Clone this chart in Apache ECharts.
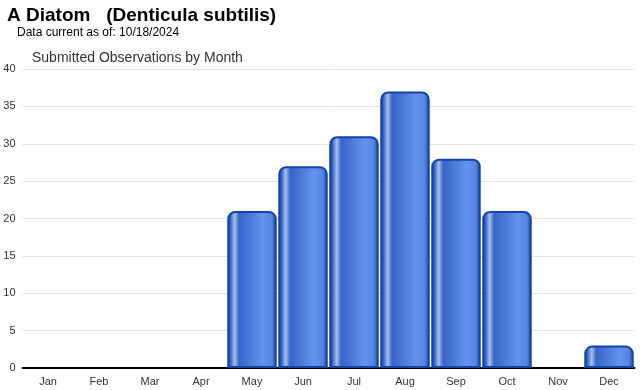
<!DOCTYPE html>
<html><head><meta charset="utf-8">
<script src="https://cdn.jsdelivr.net/npm/echarts@6/dist/echarts.min.js"></script>
<style>html,body{margin:0;padding:0;background:#fff}#c{width:640px;height:390px}</style>
</head><body><div id="c"></div>
<script>
const months = ['Jan','Feb','Mar','Apr','May','Jun','Jul','Aug','Sep','Oct','Nov','Dec'];
const observations = [0,0,0,0,21,27,31,37,28,21,0,3];
const yTicks = [0,5,10,15,20,25,30,35,40];

const chart = echarts.init(document.getElementById('c'), null, {renderer:'canvas'});
const barGrad = new echarts.graphic.LinearGradient(0,0,1,0,[
  {offset:0, color:'#1642a0'},
  {offset:0.06, color:'#2f5fc2'},
  {offset:0.15, color:'#a8bfe8'},
  {offset:0.24, color:'#3565c8'},
  {offset:0.72, color:'#6493ec'},
  {offset:0.9, color:'#5585e2'},
  {offset:1, color:'#1642a0'}
]);
chart.setOption({
  animation:false,
  title:[
    {text:'A Diatom   (Denticula subtilis)', left:7, top:6, padding:0, textStyle:{fontFamily:'Liberation Sans, Arial, sans-serif', fontSize:19, fontWeight:'bold', color:'#000'}},
    {text:'Data current as of: 10/18/2024', left:17, top:27, padding:0, textStyle:{fontFamily:'Liberation Sans, Arial, sans-serif', fontSize:12, fontWeight:'normal', color:'#000'}},
    {text:'Submitted Observations by Month', left:32, top:51, padding:0, textStyle:{fontFamily:'Liberation Sans, Arial, sans-serif', fontSize:14, fontWeight:'normal', color:'#333'}}
  ],
  grid:{left:22.5, right:5.5, top:69, bottom:22, containLabel:false},
  xAxis:{
    type:'category', data:months,
    axisLine:{lineStyle:{color:'#000', width:2}},
    axisTick:{alignWithLabel:true, length:5, lineStyle:{color:'#bbb'}},
    axisLabel:{fontFamily:'Liberation Sans, Arial, sans-serif', fontSize:11, color:'#333', margin:8}
  },
  yAxis:{
    type:'value', min:yTicks[0], max:yTicks[yTicks.length-1], interval:5,
    axisLine:{show:false}, axisTick:{show:false},
    axisLabel:{fontFamily:'Liberation Sans, Arial, sans-serif', fontSize:11, color:'#333', margin:7},
    splitLine:{lineStyle:{color:'#e2e2e2', width:1}}
  },
  series:[{
    type:'bar', data:observations.map(v => v === 0 ? null : v), barCategoryGap:'3%',
    itemStyle:{color:barGrad, borderColor:'#1443a3', borderWidth:2, borderRadius:[7,7,0,0]}
  }]
});
</script></body></html>
